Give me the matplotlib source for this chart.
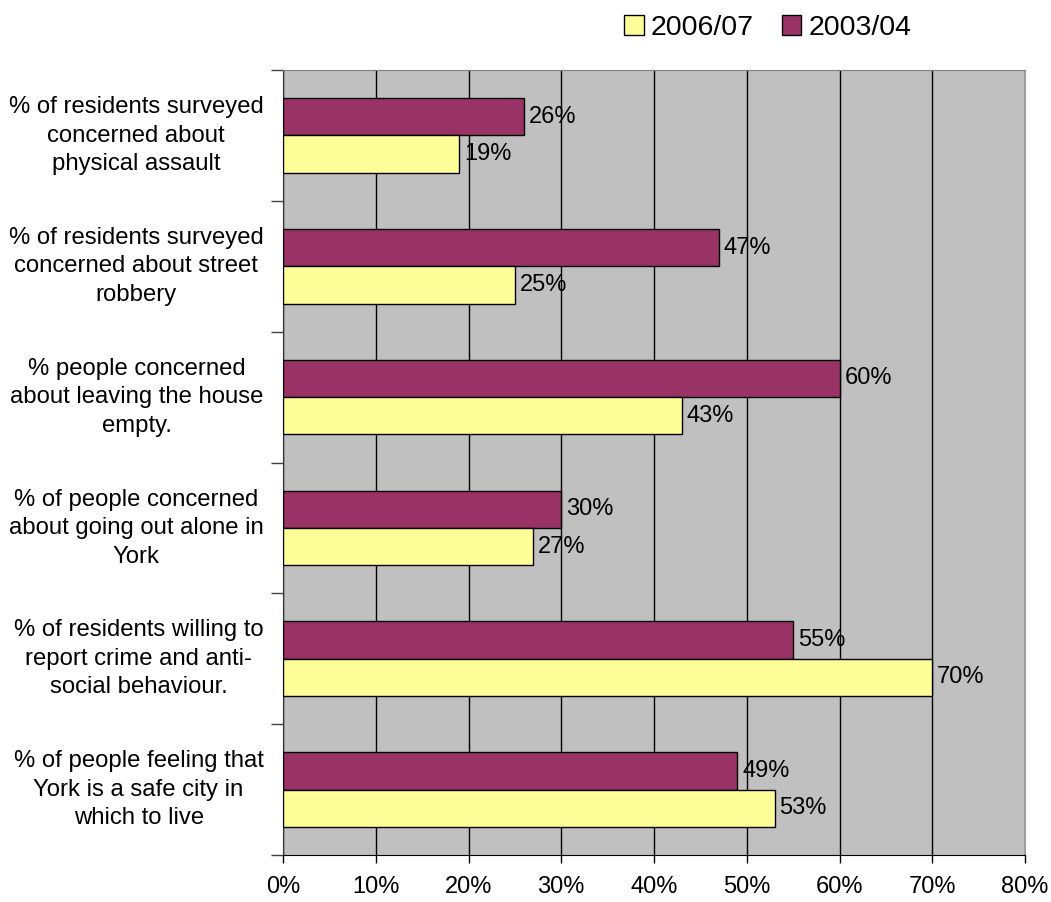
import matplotlib
matplotlib.use("Agg")
import matplotlib.pyplot as plt
import matplotlib.transforms as mtransforms
from matplotlib.patches import Patch
import numpy as np

plt.rcParams['font.family'] = ['Liberation Sans', 'DejaVu Sans']

categories = [
    "% of residents surveyed\nconcerned about\nphysical assault",
    "% of residents surveyed\nconcerned about street\nrobbery",
    "% people concerned\nabout leaving the house\nempty.",
    "% of people concerned\nabout going out alone in\nYork",
    "% of residents willing to\nreport crime and anti-\nsocial behaviour.",
    "% of people feeling that\nYork is a safe city in\nwhich to live",
]
y2003 = [26, 47, 60, 30, 55, 49]
y2006 = [19, 25, 43, 27, 70, 53]

purple = '#993366'
yellow = '#FFFF99'

fig = plt.figure(figsize=(10.51, 9.02), dpi=100)
ax = fig.add_axes([283/1051, 1-855/902, (1025-283)/1051, (855-70)/902])
ax.set_facecolor('#C0C0C0')

pos = np.arange(len(categories))
h = 2 / 7.0
ax.barh(pos - h/2, y2003, height=h, color=purple, edgecolor='black', linewidth=1, zorder=3)
ax.barh(pos + h/2, y2006, height=h, color=yellow, edgecolor='black', linewidth=1, zorder=3)

for p, v in zip(pos, y2003):
    ax.annotate("%d%%" % v, (v, p - h/2), xytext=(3.5, 0), textcoords='offset points',
                va='center', ha='left', fontsize=17)
for p, v in zip(pos, y2006):
    ax.annotate("%d%%" % v, (v, p + h/2), xytext=(3.5, 0), textcoords='offset points',
                va='center', ha='left', fontsize=17)

ax.set_xlim(0, 80)
ax.set_ylim(len(categories) - 0.5, -0.5)
ax.set_xticks(np.arange(0, 81, 10))
ax.set_xticklabels(["%d%%" % t for t in range(0, 81, 10)], fontsize=17)
ax.xaxis.grid(True, color='black', linewidth=1, zorder=1)
ax.set_axisbelow(True)

# category labels centred between the boundary ticks
ax.set_yticks(pos)
ax.set_yticklabels(categories, fontsize=17.2, multialignment='center', linespacing=1.38)
ax.tick_params(axis='y', length=0, pad=14)
nudge = mtransforms.ScaledTranslation(0, 4/72, fig.dpi_scale_trans)
for lab in ax.get_yticklabels():
    lab.set_transform(lab.get_transform() + nudge)
ax.set_yticks(np.arange(-0.5, len(categories)), minor=True)
ax.tick_params(axis='y', which='minor', length=9, width=1, color='#404040', direction='out')
ax.tick_params(axis='x', length=6, width=1, direction='out', pad=9)

ax.spines['top'].set_color('#808080')
ax.spines['right'].set_color('#A0A0A0')
ax.spines['left'].set_color('#303030')
ax.spines['bottom'].set_color('black')

handles = [Patch(facecolor=yellow, edgecolor='black', label='2006/07'),
           Patch(facecolor=purple, edgecolor='black', label='2003/04')]
fig.legend(handles=handles, loc='center right', bbox_to_anchor=(923/1051, 1-28/902),
           ncol=2, frameon=False, fontsize=20.5, handlelength=0.68, handleheight=0.68,
           handletextpad=0.25, columnspacing=1.0, borderaxespad=0)

fig.savefig("out.png", dpi=100)
